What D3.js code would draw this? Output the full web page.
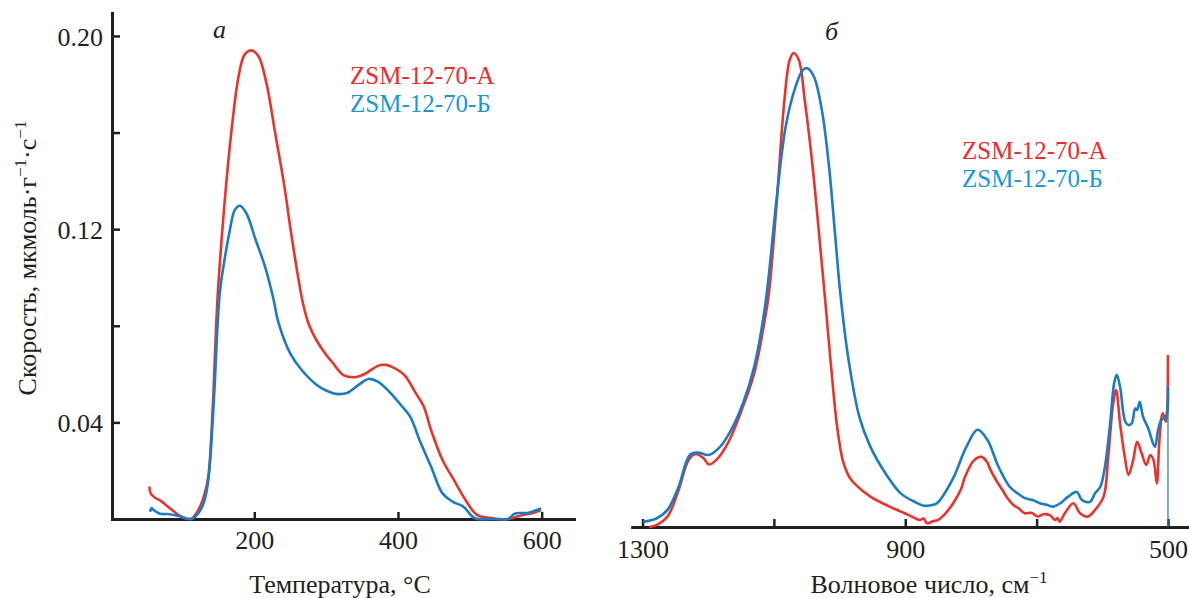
<!DOCTYPE html>
<html>
<head>
<meta charset="utf-8">
<script src="https://cdn.jsdelivr.net/npm/d3@7"></script>
<style>
  html, body { margin: 0; padding: 0; background: #fff; }
  svg { display: block; font-family: "Liberation Serif", "Times New Roman", serif; }
  .axis path, .axis line { stroke: #231f20; }
  .axis text { fill: #231f20; font-family: "Liberation Serif", "Times New Roman", serif; }
</style>
</head>
<body>
<svg id="chart" width="1189" height="598"></svg>
<script>
// (a) TPD rate curves, µmol·g⁻¹·s⁻¹ vs temperature, °C
const tempA = [54, 56, 62, 70, 80, 92, 101, 112, 122, 130, 136, 142, 149, 159, 168, 178, 186, 194, 200, 207, 218, 229, 242, 250, 260, 268, 276, 287, 300, 308, 324, 340, 352, 359, 372, 383, 393, 409, 425, 436, 446, 462, 478, 494, 510, 531, 553, 574, 588, 599];
const rateA = [0.0134, 0.0105, 0.0088, 0.0075, 0.0051, 0.0022, 0.0005, 0.0, 0.0037, 0.0095, 0.0175, 0.045, 0.092, 0.132, 0.160, 0.183, 0.192, 0.194, 0.1935, 0.191, 0.179, 0.160, 0.1376, 0.121, 0.102, 0.089, 0.0805, 0.0738, 0.068, 0.0651, 0.0596, 0.0587, 0.0598, 0.0610, 0.0634, 0.0638, 0.0628, 0.0596, 0.052, 0.0465, 0.0369, 0.0244, 0.0161, 0.0079, 0.0017, 0.0003, 0.0, 0.0017, 0.0025, 0.0037];

const tempB = [55, 57, 60, 69, 82, 96, 112, 122, 130, 136, 143, 152, 159, 165, 173, 180, 189, 202, 215, 226, 234, 250, 266, 287, 300, 314, 330, 345, 359, 372, 388, 404, 417, 430, 446, 462, 476, 491, 507, 531, 553, 563, 580, 599];
const rateB = [0.0030, 0.0045, 0.0037, 0.0022, 0.0020, 0.0012, 0.0, 0.0023, 0.007, 0.016, 0.045, 0.0935, 0.108, 0.118, 0.128, 0.1297, 0.1266, 0.1155, 0.1045, 0.092, 0.081, 0.0686, 0.0617, 0.0555, 0.0532, 0.0518, 0.0523, 0.0555, 0.058, 0.0569, 0.0527, 0.0472, 0.0424, 0.0327, 0.0217, 0.0106, 0.0072, 0.0051, 0.0003, 0.0, 0.0, 0.0023, 0.0025, 0.0044];

const rateTicks = [0.04, 0.08, 0.12, 0.16, 0.20];
const rateLabels = [0.04, 0.12, 0.20];
const tempTicks = [200, 400, 600];

// (б) IR spectra, absorbance (relative units) vs wavenumber, cm⁻¹
const waveA = [1290, 1279, 1262, 1245, 1230, 1219, 1207, 1199, 1188, 1170, 1147, 1130, 1113, 1107, 1096, 1084, 1076, 1070, 1062, 1053, 1041, 1030, 1022, 1013, 1004, 995, 985, 976, 953, 924, 912, 901, 890, 878, 872, 867, 858, 850, 838, 827, 815, 809, 795, 784, 776, 770, 760, 752, 744, 735, 728, 718, 708, 698, 690, 680, 672, 668, 665, 657, 644, 634, 622, 611, 598, 591, 584, 579, 573, 566, 560, 553, 547, 540, 533, 527, 522, 517, 513, 508, 503, 501, 500];
const absA = [0.0, 0.004, 0.022, 0.078, 0.141, 0.154, 0.145, 0.132, 0.141, 0.177, 0.254, 0.324, 0.444, 0.5, 0.68, 0.90, 0.985, 1.0, 0.985, 0.90, 0.76, 0.60, 0.48, 0.34, 0.215, 0.14, 0.105, 0.090, 0.064, 0.043, 0.036, 0.029, 0.022, 0.015, 0.018, 0.008, 0.012, 0.015, 0.03, 0.05, 0.08, 0.106, 0.141, 0.148, 0.138, 0.12, 0.095, 0.078, 0.06, 0.046, 0.04, 0.029, 0.03, 0.022, 0.027, 0.025, 0.015, 0.019, 0.011, 0.029, 0.05, 0.029, 0.022, 0.036, 0.064, 0.148, 0.254, 0.289, 0.219, 0.15, 0.11, 0.141, 0.18, 0.155, 0.131, 0.152, 0.141, 0.092, 0.184, 0.24, 0.222, 0.254, 0.363];

const waveB = [1299, 1279, 1262, 1245, 1228, 1216, 1199, 1182, 1165, 1147, 1130, 1113, 1096, 1082, 1067, 1056, 1049, 1039, 1027, 1016, 1007, 999, 987, 970, 953, 930, 907, 884, 872, 861, 852, 847, 827, 807, 790, 775, 758, 741, 728, 718, 706, 695, 685, 675, 664, 652, 639, 631, 619, 611, 603, 596, 588, 582, 578, 573, 565, 560, 555, 550, 547, 543, 538, 530, 520, 515, 510, 503, 500];
const absB = [0.011, 0.018, 0.036, 0.085, 0.152, 0.157, 0.152, 0.169, 0.205, 0.261, 0.338, 0.47, 0.69, 0.845, 0.929, 0.964, 0.968, 0.95, 0.88, 0.76, 0.62, 0.495, 0.359, 0.233, 0.169, 0.113, 0.071, 0.052, 0.045, 0.046, 0.05, 0.057, 0.103, 0.169, 0.205, 0.184, 0.127, 0.085, 0.07, 0.061, 0.057, 0.05, 0.047, 0.043, 0.05, 0.064, 0.074, 0.057, 0.053, 0.071, 0.085, 0.127, 0.219, 0.303, 0.321, 0.296, 0.222, 0.215, 0.219, 0.25, 0.247, 0.264, 0.233, 0.208, 0.169, 0.205, 0.226, 0.233, 0.296];

const waveTicks = [1300, 1100, 900, 700, 500];
const waveLabels = [1300, 900, 500];

const seriesNames = ["ZSM-12-70-А", "ZSM-12-70-Б"];
const lineColors = ["#e8342c", "#1b7bc3"];
const legendColors = ["#ee2b2b", "#1a98d5"];

const svg = d3.select("#chart");
const FONT = "26px";

// two-line colour legend
function legend(x, y, step) {
  seriesNames.forEach((n, i) => {
    svg.append("text").attr("x", x).attr("y", y + i * step)
      .style("font-size", "25px").attr("fill", legendColors[i]).text(n);
  });
}

// ---------- panel (a) ----------
const xA = d3.scaleLinear().domain([2, 645]).range([112, 574]);
const yA = d3.scaleLinear().domain([0, 0.2095]).range([519, 13]);

const gxA = svg.append("g").attr("class", "axis")
  .attr("transform", `translate(0,${yA(0)})`)
  .call(d3.axisBottom(xA).tickValues(tempTicks).tickSize(-7).tickSizeOuter(0)
    .tickPadding(12).tickFormat(d3.format("d")));
const gyA = svg.append("g").attr("class", "axis")
  .attr("transform", `translate(${xA(2)},0)`)
  .call(d3.axisLeft(yA).tickValues(rateTicks).tickSize(-8).tickSizeOuter(0)
    .tickPadding(9).tickFormat(d => rateLabels.some(v => Math.abs(v - d) < 1e-9) ? d.toFixed(2) : ""));

[gxA, gyA].forEach(g => {
  g.select(".domain").attr("stroke-width", 3).attr("stroke-linecap", "square");
  g.selectAll(".tick line").attr("stroke-width", 2.5);
  g.selectAll("text").style("font-size", FONT);
});
gyA.selectAll("text").attr("dy", "0.36em");

const lineA = d3.line().x(d => xA(d[0])).y(d => yA(d[1])).curve(d3.curveCatmullRom.alpha(0.5));
[[tempA, rateA], [tempB, rateB]].forEach(([t, r], i) => {
  svg.append("path")
    .datum(t.map((v, k) => [v, r[k]]))
    .attr("fill", "none").attr("stroke", lineColors[i])
    .attr("stroke-width", 2.6).attr("stroke-linejoin", "round")
    .attr("d", lineA);
});

// axis titles (a)
svg.append("text").attr("x", 340).attr("y", 593).attr("text-anchor", "middle")
  .style("font-size", FONT).attr("fill", "#231f20").text("Температура, °C");

const yTitle = svg.append("text")
  .attr("transform", "translate(36,258) rotate(-90)")
  .attr("text-anchor", "middle").style("font-size", FONT).attr("fill", "#231f20");
yTitle.append("tspan").text("Скорость, мкмоль·г");
yTitle.append("tspan").attr("dy", -10).style("font-size", "17px").text("−1");
yTitle.append("tspan").attr("dy", 10).text("·с");
yTitle.append("tspan").attr("dy", -10).style("font-size", "17px").text("−1");

svg.append("text").attr("x", 213).attr("y", 38).style("font-size", FONT)
  .style("font-style", "italic").attr("fill", "#231f20").text("а");

legend(350, 84, 28);

// ---------- panel (б) ----------
const xB = d3.scaleLinear().domain([1318, 468]).range([630.7, 1189]);
const yB = d3.scaleLinear().domain([0, 1]).range([527, 53]);

const gxB = svg.append("g").attr("class", "axis")
  .attr("transform", `translate(0,${yB(0)})`)
  .call(d3.axisBottom(xB).tickValues(waveTicks).tickSize(-8).tickSizeOuter(0)
    .tickPadding(13).tickFormat(d => waveLabels.includes(d) ? String(d) : ""));
gxB.select(".domain").attr("stroke-width", 3);
gxB.selectAll(".tick line").attr("stroke-width", 2.5);
gxB.selectAll("text").style("font-size", FONT);

const lineB = d3.line().x(d => xB(d[0])).y(d => yB(d[1])).curve(d3.curveCatmullRom.alpha(0.5));
[[waveA, absA], [waveB, absB]].forEach(([w, a], i) => {
  svg.append("path")
    .datum(w.map((v, k) => [v, a[k]]))
    .attr("fill", "none").attr("stroke", lineColors[i])
    .attr("stroke-width", 2.6).attr("stroke-linejoin", "round")
    .attr("d", lineB);
});

// spectrum B cut-off at the low-wavenumber end
const lastB = waveB.length - 1;
svg.append("line")
  .attr("x1", xB(waveB[lastB])).attr("x2", xB(waveB[lastB]))
  .attr("y1", yB(absB[lastB])).attr("y2", yB(0))
  .attr("stroke", lineColors[1]).attr("stroke-width", 1.2);

svg.append("text").attr("x", 929).attr("y", 593).attr("text-anchor", "middle")
  .style("font-size", FONT).attr("fill", "#231f20")
  .call(t => {
    t.append("tspan").text("Волновое число, см");
    t.append("tspan").attr("dy", -10).style("font-size", "17px").text("−1");
  });

svg.append("text").attr("x", 825).attr("y", 40).style("font-size", FONT)
  .style("font-style", "italic").attr("fill", "#231f20").text("б");

legend(962, 159, 28);
</script>
</body>
</html>
